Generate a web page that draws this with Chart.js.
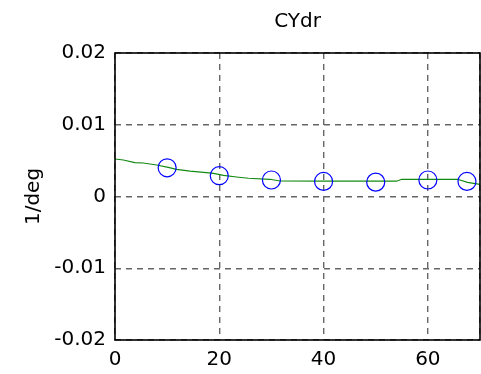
<!DOCTYPE html>
<html>
<head>
<meta charset="utf-8">
<script src="https://cdn.jsdelivr.net/npm/chart.js@4.4.0/dist/chart.umd.min.js"></script>
<style>
  html, body { margin: 0; padding: 0; background: #ffffff; }
  #wrap { width: 481px; height: 374px; }
</style>
</head>
<body>
<div id="wrap"><canvas id="c" width="481" height="374"></canvas></div>
<script>
const chartTitle = 'CYdr';
const yAxisLabel = '1/deg';
const xTicks = [0, 20, 40, 60, 70];
const xTickLabels = ['0', '20', '40', '60', ''];
const yTicks = [-0.02, -0.01, 0, 0.01, 0.02];
const yTickLabels = ['-0.02', '-0.01', '0', '0.01', '0.02'];

const lineX = [0, 1.6, 3.8, 5.4, 8, 10.2, 11.8, 14.4, 17, 18.9, 20.8, 23.3, 25.6, 29.7, 31.6, 40, 48, 54, 55, 60, 65.7, 67.6, 70];
const lineY = [0.00523, 0.00509, 0.00471, 0.00467, 0.00439, 0.00407, 0.00379, 0.00355, 0.00337, 0.00323, 0.00295, 0.00272, 0.00254, 0.0024, 0.00216, 0.00213, 0.00213, 0.00213, 0.0024, 0.0024, 0.0024, 0.00198, 0.0017];

const markX = [10, 20, 30, 40, 50, 60, 67.5];
const markY = [0.0040, 0.0029, 0.0023, 0.0021, 0.0020, 0.0023, 0.0021];

const FONT = 'DejaVu Sans';

const spacingPlugin = {
  id: 'spacing',
  beforeInit(chart) { if ('letterSpacing' in chart.ctx) chart.ctx.letterSpacing = '1.2px'; }
};

const framePlugin = {
  id: 'frame',
  afterDatasetsDraw(chart) {
    const a = chart.chartArea;
    const ctx = chart.ctx;
    ctx.save();
    ctx.strokeStyle = '#000000';
    ctx.lineWidth = 1.6;
    ctx.setLineDash([]);
    ctx.strokeRect(Math.round(a.left), Math.round(a.top),
                   Math.round(a.right - a.left), Math.round(a.bottom - a.top));
    ctx.restore();
  }
};

new Chart(document.getElementById('c'), {
  type: 'scatter',
  data: {
    datasets: [
      {
        type: 'line',
        data: lineX.map((x, i) => ({ x: x, y: lineY[i] })),
        borderColor: '#138a13',
        borderWidth: 1.2,
        pointRadius: 0,
        fill: false,
        tension: 0,
        order: 2
      },
      {
        data: markX.map((x, i) => ({ x: x, y: markY[i] })),
        borderColor: '#0000ff',
        backgroundColor: 'rgba(0,0,0,0)',
        borderWidth: 1.2,
        pointRadius: 9,
        pointHoverRadius: 9,
        showLine: false,
        order: 1
      }
    ]
  },
  options: {
    responsive: false,
    animation: false,
    devicePixelRatio: 1,
    layout: { autoPadding: false, padding: { left: 0, right: 1, top: 0, bottom: 0 } },
    plugins: {
      legend: { display: false },
      tooltip: { enabled: false },
      title: {
        display: true,
        fullSize: false,
        text: chartTitle,
        color: '#000000',
        font: { family: FONT, size: 20, weight: 'normal', lineHeight: 1.2 },
        padding: { top: 10, bottom: 19 }
      }
    },
    scales: {
      x: {
        type: 'linear',
        min: 0,
        max: 70,
        afterBuildTicks(scale) { scale.ticks = xTicks.map(v => ({ value: v })); },
        afterFit(scale) { scale.height = 34; scale.paddingRight = 0; scale.paddingLeft = 0; },
        grid: { color: '#666666', lineWidth: 1.4, drawTicks: false },
        border: { display: false, dash: [6, 5] },
        ticks: {
          color: '#000000',
          font: { family: FONT, size: 20 },
          padding: 8,
          maxRotation: 0,
          autoSkip: false,
          callback: (v) => {
            const i = xTicks.findIndex(t => Math.abs(t - v) < 1e-9);
            return i >= 0 ? xTickLabels[i] : '';
          }
        }
      },
      y: {
        type: 'linear',
        min: -0.02,
        max: 0.02,
        afterBuildTicks(scale) { scale.ticks = yTicks.map(v => ({ value: v })); },
        afterFit(scale) { scale.width = 115; scale.paddingLeft = 0; scale.paddingRight = 0; scale.paddingTop = 0; scale.paddingBottom = 0; },
        grid: { color: '#666666', lineWidth: 1.4, drawTicks: false },
        border: { display: false, dash: [6, 5] },
        ticks: {
          color: '#000000',
          font: { family: FONT, size: 20 },
          padding: 9,
          autoSkip: false,
          callback: (v) => {
            const i = yTicks.findIndex(t => Math.abs(t - v) < 1e-9);
            return i >= 0 ? yTickLabels[i] : '';
          }
        },
        title: {
          display: true,
          text: yAxisLabel,
          color: '#000000',
          font: { family: FONT, size: 20 },
          padding: { top: 22, bottom: 0 }
        }
      }
    }
  },
  plugins: [spacingPlugin, framePlugin]
});
</script>
</body>
</html>
